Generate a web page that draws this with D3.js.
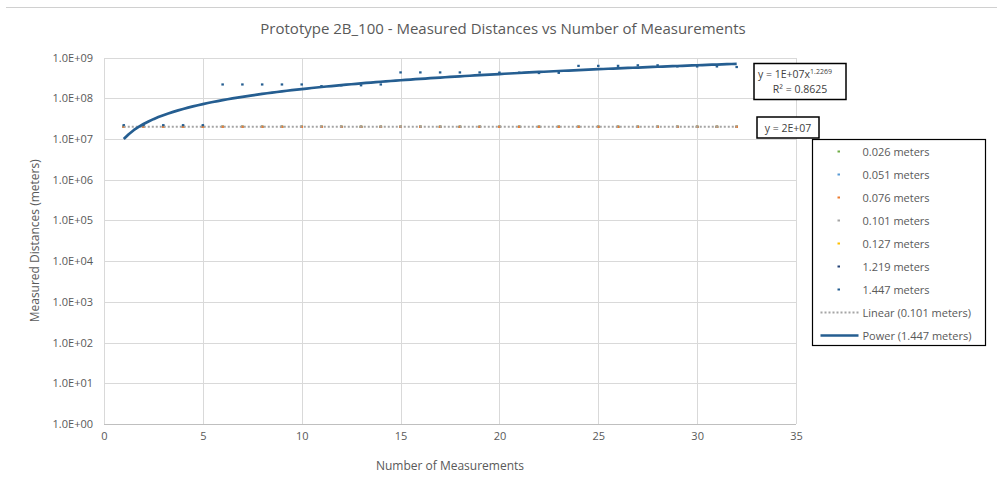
<!DOCTYPE html>
<html>
<head>
<meta charset="utf-8">
<script src="https://cdn.jsdelivr.net/npm/d3@7"></script>
<style>
	html, body { margin: 0; padding: 0; background: #fff; }
	svg { display: block; font-family: "Open Sans", sans-serif; }
</style>
</head>
<body>
<div id="visHolder"></div>
<script>
	// number of measurements (x)
	const measurements = [1, 2, 3, 4, 5, 6, 7, 8, 9, 10, 11, 12, 13, 14, 15, 16,
		17, 18, 19, 20, 21, 22, 23, 24, 25, 26, 27, 28, 29, 30, 31, 32];

	// measured distances per prototype distance (y)
	const dist0026 = [2e7, 2e7, 2e7, 2e7, 2e7, 2e7, 2e7, 2e7, 2e7, 2e7, 2e7, 2e7, 2e7, 2e7, 2e7, 2e7,
		2e7, 2e7, 2e7, 2e7, 2e7, 2e7, 2e7, 2e7, 2e7, 2e7, 2e7, 2e7, 2e7, 2e7, 2e7, 2e7];
	const dist0051 = [2e7, 2e7, 2e7, 2e7, 2e7, 2e7, 2e7, 2e7, 2e7, 2e7, 2e7, 2e7, 2e7, 2e7, 2e7, 2e7,
		2e7, 2e7, 2e7, 2e7, 2e7, 2e7, 2e7, 2e7, 2e7, 2e7, 2e7, 2e7, 2e7, 2e7, 2e7, 2e7];
	const dist0076 = [2e7, 2e7, 2e7, 2e7, 2e7, 2e7, 2e7, 2e7, 2e7, 2e7, 2e7, 2e7, 2e7, 2e7, 2e7, 2e7,
		2e7, 2e7, 2e7, 2e7, 2e7, 2e7, 2e7, 2e7, 2e7, 2e7, 2e7, 2e7, 2e7, 2e7, 2e7, 2e7];
	const dist0101 = [2e7, 2e7, 2e7, 2e7, 2e7, 2e7, 2e7, 2e7, 2e7, 2e7, 2e7, 2e7, 2e7, 2e7, 2e7, 2e7,
		2e7, 2e7, 2e7, 2e7, 2e7, 2e7, 2e7, 2e7, 2e7, 2e7, 2e7, 2e7, 2e7, 2e7, 2e7, 2e7];
	const dist0127 = [2e7, 2e7, 2e7, 2e7, 2e7, 2e7, 2e7, 2e7, 2e7, 2e7, 2e7, 2e7, 2e7, 2e7, 2e7, 2e7,
		2e7, 2e7, 2e7, 2e7, 2e7, 2e7, 2e7, 2e7, 2e7, 2e7, 2e7, 2e7, 2e7, 2e7, 2e7, 2e7];
	const dist1219 = [2e7, 2e7, 2e7, 2e7, 2e7, 2e7, 2e7, 2e7, 2e7, 2e7, 2e7, 2e7, 2e7, 2e7, 2e7, 2e7,
		2e7, 2e7, 2e7, 2e7, 2e7, 2e7, 2e7, 2e7, 2e7, 2e7, 2e7, 2e7, 2e7, 2e7, 2e7, 2e7];
	const dist1447 = [2.2e7, 2.2e7, 2.2e7, 2.2e7, 2.2e7, 2.2e8, 2.2e8, 2.2e8, 2.2e8, 2.2e8, 2.0e8, 2.1e8,
		2.1e8, 2.2e8, 4.35e8, 4.35e8, 4.35e8, 4.35e8, 4.35e8, 4.3e8, 4.3e8, 4.2e8, 4.25e8, 6.3e8,
		6.3e8, 6.3e8, 6.5e8, 6.5e8, 6.1e8, 6.1e8, 6.1e8, 5.9e8];

	const seriesNames = ["0.026 meters", "0.051 meters", "0.076 meters", "0.101 meters",
		"0.127 meters", "1.219 meters", "1.447 meters"];
	const seriesValues = [dist0026, dist0051, dist0076, dist0101, dist0127, dist1219, dist1447];
	const seriesColors = ["#70AD47", "#5B9BD5", "#ED7D31", "#A5A5A5", "#FFC000", "#264478", "#255E91"];
	// order the markers are painted in (last on top)
	const drawOrder = [5, 4, 0, 1, 3, 2, 6];

	// trendlines as labelled on the chart
	const linearLabel = "y = 2E+07";
	const linearValue = 2e7;
	const powerCoef = 1e7;
	const powerExp = 1.2269;
	const powerR2 = "0.8625";
	const trendRange = [1, 32];

	const xTicks = [0, 5, 10, 15, 20, 25, 30, 35];
	const yTicks = [1e0, 1e1, 1e2, 1e3, 1e4, 1e5, 1e6, 1e7, 1e8, 1e9];

	const width = 997;
	const height = 489;
	const plot = { left: 104, right: 796, top: 57.6, bottom: 424 };
	const textColor = "#595959";
	const gridColor = "#D9D9D9";

	const x = d3.scaleLinear().domain([0, 35]).range([plot.left, plot.right]);
	const y = d3.scaleLog().domain([1, 1e9]).range([plot.bottom, plot.top]);

	const svg = createSvg();
	createTopRule();
	createTitle();
	createGrid();
	createAxes();
	createPoints();
	createTrendlines();
	createEquationBoxes();
	createLegend();

	function createSvg() {
		return d3
			.select("#visHolder")
			.append("svg")
			.attr("width", width)
			.attr("height", height)
			.attr("viewBox", [0, 0, width, height]);
	}

	function createTopRule() {
		svg
			.append("line")
			.attr("x1", 6)
			.attr("x2", width)
			.attr("y1", 7.5)
			.attr("y2", 7.5)
			.attr("stroke", "#D0D0D0")
			.attr("stroke-width", 1);
	}

	function createTitle() {
		svg
			.append("text")
			.text("Prototype 2B_100 - Measured Distances vs Number of Measurements")
			.attr("x", 503)
			.attr("y", 34)
			.attr("text-anchor", "middle")
			.attr("fill", textColor)
			.attr("font-size", "15px");
	}

	function createGrid() {
		const grid = svg.append("g").attr("shape-rendering", "crispEdges");
		grid
			.selectAll(".vgrid")
			.data(xTicks.slice(1))
			.join("line")
			.attr("x1", (d) => Math.round(x(d)) + 0.5)
			.attr("x2", (d) => Math.round(x(d)) + 0.5)
			.attr("y1", plot.top)
			.attr("y2", plot.bottom)
			.attr("stroke", gridColor);
		grid
			.selectAll(".hgrid")
			.data(yTicks.slice(1))
			.join("line")
			.attr("x1", plot.left)
			.attr("x2", plot.right)
			.attr("y1", (d) => Math.round(y(d)) + 0.5)
			.attr("y2", (d) => Math.round(y(d)) + 0.5)
			.attr("stroke", gridColor);
		//axis lines
		grid
			.append("line")
			.attr("x1", plot.left + 0.5)
			.attr("x2", plot.left + 0.5)
			.attr("y1", plot.top)
			.attr("y2", plot.bottom)
			.attr("stroke", gridColor);
		grid
			.append("line")
			.attr("x1", plot.left)
			.attr("x2", plot.right)
			.attr("y1", Math.round(plot.bottom) + 0.5)
			.attr("y2", Math.round(plot.bottom) + 0.5)
			.attr("stroke", "#BFBFBF");
	}

	function createAxes() {
		const expFormat = (d) =>
			"1.0E+" + String(Math.round(Math.log10(d))).padStart(2, "0");

		const yAxis = svg
			.append("g")
			.attr("transform", `translate(${plot.left},0)`)
			.call(
				d3.axisLeft(y).tickValues(yTicks).tickFormat(expFormat).tickSize(0).tickPadding(11)
			);
		yAxis.select(".domain").remove();
		yAxis.selectAll("text").attr("fill", textColor).attr("font-size", "11px")
			.attr("font-family", "Open Sans");

		const xAxis = svg
			.append("g")
			.attr("transform", `translate(0,${plot.bottom})`)
			.call(d3.axisBottom(x).tickValues(xTicks).tickSize(0).tickPadding(8));
		xAxis.select(".domain").remove();
		xAxis.selectAll("text").attr("fill", textColor).attr("font-size", "11px")
			.attr("font-family", "Open Sans");

		svg
			.append("text")
			.text("Measured Distances (meters)")
			.attr("transform", `translate(39,${(plot.top + plot.bottom) / 2}) rotate(-90)`)
			.attr("text-anchor", "middle")
			.attr("fill", textColor)
			.attr("font-size", "12px");

		svg
			.append("text")
			.text("Number of Measurements")
			.attr("x", (plot.left + plot.right) / 2)
			.attr("y", 470)
			.attr("text-anchor", "middle")
			.attr("fill", textColor)
			.attr("font-size", "12px");
	}

	function createPoints() {
		const layer = svg.append("g");
		drawOrder.forEach((s) => {
			layer
				.append("g")
				.selectAll("rect")
				.data(measurements.map((m, i) => [m, seriesValues[s][i]]))
				.join("rect")
				.attr("x", (d) => x(d[0]) - 1.25)
				.attr("y", (d) => y(d[1]) - 1)
				.attr("width", 2.5)
				.attr("height", 2.2)
				.attr("fill", seriesColors[s]);
		});
	}

	function createTrendlines() {
		//linear fit of 0.101 meters
		svg
			.append("line")
			.attr("x1", x(trendRange[0]))
			.attr("x2", x(trendRange[1]))
			.attr("y1", y(linearValue))
			.attr("y2", y(linearValue))
			.attr("stroke", "#A5A5A5")
			.attr("stroke-width", 2)
			.attr("stroke-dasharray", "2 2");

		//power fit of 1.447 meters, traced from the labelled equation
		const steps = d3.range(trendRange[0], trendRange[1] + 0.001, 0.25);
		const line = d3
			.line()
			.x((d) => x(d))
			.y((d) => y(powerCoef * Math.pow(d, powerExp)));
		svg
			.append("path")
			.attr("d", line(steps))
			.attr("fill", "none")
			.attr("stroke", seriesColors[6])
			.attr("stroke-width", 2.7)
			.attr("stroke-linejoin", "round");
	}

	function createEquationBoxes() {
		const powerBox = svg.append("g");
		powerBox
			.append("rect")
			.attr("x", 754)
			.attr("y", 63.5)
			.attr("width", 92)
			.attr("height", 36)
			.attr("fill", "#fff")
			.attr("stroke", "#000")
			.attr("stroke-width", 1.5);
		const eq = powerBox
			.append("text")
			.attr("x", 758)
			.attr("y", 78)
			.attr("fill", "#404040")
			.attr("font-size", "10.5px");
		eq.append("tspan").text(`y = ${d3.format(".0e")(powerCoef).replace("e+", "E+0")}x`);
		eq.append("tspan").text(powerExp).attr("font-size", "7px").attr("dy", -4);
		powerBox
			.append("text")
			.attr("x", 800)
			.attr("y", 93)
			.attr("text-anchor", "middle")
			.attr("fill", "#404040")
			.attr("font-size", "10.5px")
			.text(`R² = ${powerR2}`);

		const linearBox = svg.append("g");
		linearBox
			.append("rect")
			.attr("x", 757)
			.attr("y", 117)
			.attr("width", 62)
			.attr("height", 21)
			.attr("fill", "#fff")
			.attr("stroke", "#000")
			.attr("stroke-width", 1.5);
		linearBox
			.append("text")
			.attr("x", 788)
			.attr("y", 131.5)
			.attr("text-anchor", "middle")
			.attr("fill", "#404040")
			.attr("font-size", "10.5px")
			.text(linearLabel);
	}

	function createLegend() {
		const legend = svg.append("g").attr("transform", "translate(812.5,139.5)");
		legend
			.append("rect")
			.attr("width", 173)
			.attr("height", 206)
			.attr("fill", "#fff")
			.attr("stroke", "#000")
			.attr("stroke-width", 1.2);

		const entries = [
			...seriesNames.map((name, i) => ({ name, kind: "marker", color: seriesColors[i] })),
			{ name: "Linear (0.101 meters)", kind: "dotted", color: "#A5A5A5" },
			{ name: "Power (1.447 meters)", kind: "solid", color: seriesColors[6] },
		];
		const rowY = (i) => 12 + i * 23;

		const rows = legend
			.selectAll("g")
			.data(entries)
			.join("g")
			.attr("transform", (_d, i) => `translate(0,${rowY(i)})`);

		rows
			.filter((d) => d.kind === "marker")
			.append("rect")
			.attr("x", 25)
			.attr("y", -1)
			.attr("width", 2.5)
			.attr("height", 2)
			.attr("fill", (d) => d.color);

		rows
			.filter((d) => d.kind !== "marker")
			.append("line")
			.attr("x1", 8)
			.attr("x2", 46)
			.attr("y1", 0)
			.attr("y2", 0)
			.attr("stroke", (d) => d.color)
			.attr("stroke-width", (d) => (d.kind === "solid" ? 2.5 : 1.8))
			.attr("stroke-dasharray", (d) => (d.kind === "dotted" ? "2 2" : null));

		rows
			.append("text")
			.text((d) => d.name)
			.attr("x", 50)
			.attr("y", 4)
			.attr("fill", textColor)
			.attr("font-size", "11px");
	}
</script>
</body>
</html>
